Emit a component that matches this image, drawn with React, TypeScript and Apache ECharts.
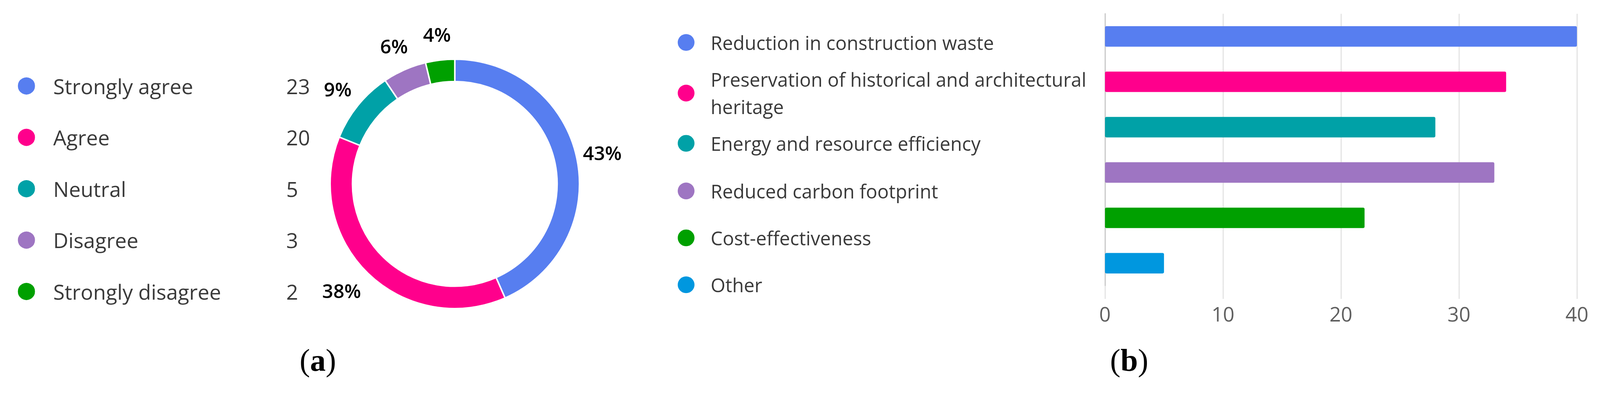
import React, { useEffect, useRef } from "react";
import * as echarts from "echarts";

// ---- data ----
const opinionNames = ["Strongly agree", "Agree", "Neutral", "Disagree", "Strongly disagree"];
const opinionCounts = [23, 20, 5, 3, 2];
const opinionColors = ["#577EF0", "#FF008C", "#00A1A7", "#9E75C2", "#00A000"];

const benefitNames = [
  "Reduction in construction waste",
  "Preservation of historical and architectural heritage",
  "Energy and resource efficiency",
  "Reduced carbon footprint",
  "Cost-effectiveness",
  "Other",
];
const benefitCounts = [40, 34, 28, 33, 22, 5];
const benefitColors = ["#577EF0", "#FF008C", "#00A1A7", "#9E75C2", "#00A000", "#0097DF"];

const axisMin = 0;
const axisMax = 40;
const axisStep = 10;

// ---- layout ----
const W = 4299;
const H = 1052;
const FONT = "'Open Sans', 'Noto Sans', sans-serif";
const SERIF = "'Liberation Serif', 'DejaVu Serif', serif";
const benefitLegendCenters = [114, 250, 385, 513, 639, 765];
const benefitLegendLineH = 74;
const benefitWrapChars = 45;
const pctLabelOffsets: [number, number][] = [[0, 0], [-22, -4], [0, 0], [0, 0], [0, 0]];

function wrapWords(text: string, maxChars: number): string {
  const words = text.split(" ");
  const lines: string[] = [];
  let cur = "";
  for (const w of words) {
    const next = cur ? cur + " " + w : w;
    if (next.length > maxChars && cur) {
      lines.push(cur);
      cur = w;
    } else {
      cur = next;
    }
  }
  if (cur) lines.push(cur);
  return lines.join("\n");
}

export default function App() {
  const ref = useRef<HTMLDivElement>(null);
  const scale =
    typeof window !== "undefined"
      ? Math.min(window.innerWidth / W, window.innerHeight / H, 1) || 1
      : 1;

  useEffect(() => {
    if (!ref.current) return;
    document.body.style.margin = "0";
    document.body.style.overflow = "hidden";
    document.documentElement.style.overflow = "hidden";
    const chart = echarts.init(ref.current, null, { renderer: "svg", width: W, height: H });
    const total = opinionCounts.reduce((a, b) => a + b, 0);

    const benefitLegends = benefitNames.map((name, i) => {
      const wrapped = wrapWords(name, benefitWrapChars);
      const lines = wrapped.split("\n").length;
      const h = lines * benefitLegendLineH;
      return {
        data: [name],
        orient: "vertical",
        left: 1821,
        top: benefitLegendCenters[i] - h / 2,
        padding: 0,
        itemWidth: 122,
        itemHeight: 45,
        icon: "circle",
        selectedMode: false,
        formatter: (n: string) => wrapWords(n, benefitWrapChars),
        textStyle: {
          fontFamily: FONT,
          fontSize: 51,
          color: "#3a3a3a",
          lineHeight: benefitLegendLineH,
        },
      };
    });

    const option: any = {
      animation: false,
      backgroundColor: "#ffffff",
      legend: [
        {
          data: opinionNames,
          orient: "vertical",
          left: 46,
          top: 203,
          padding: 0,
          itemWidth: 134,
          itemHeight: 48,
          itemGap: 82,
          icon: "circle",
          selectedMode: false,
          formatter: (name: string) =>
            `{n|${name}}{v|${opinionCounts[opinionNames.indexOf(name)]}}`,
          textStyle: {
            fontFamily: FONT,
            fontSize: 56,
            color: "#3a3a3a",
            lineHeight: 48,
            rich: {
              n: { width: 626, fontFamily: FONT, fontSize: 56, color: "#3a3a3a", lineHeight: 48 },
              v: { fontFamily: FONT, fontSize: 56, color: "#3a3a3a", lineHeight: 48 },
            },
          },
        },
        ...benefitLegends,
      ],
      grid: { left: 2969, width: 1268, top: 37, height: 731, containLabel: false },
      xAxis: {
        type: "value",
        min: axisMin,
        max: axisMax,
        interval: axisStep,
        axisLine: { show: false },
        axisTick: { show: true, length: 35, lineStyle: { color: "#e3e3e3", width: 3 } },
        splitLine: { show: true, lineStyle: { color: "#e3e3e3", width: 3 } },
        axisLabel: { fontFamily: FONT, fontSize: 54, color: "#5f5f5f", margin: 48 },
      },
      yAxis: {
        type: "category",
        inverse: true,
        data: benefitNames,
        axisLine: { show: true, lineStyle: { color: "#c9c9c9", width: 3 } },
        axisTick: { show: false },
        axisLabel: { show: false },
        splitLine: { show: false },
      },
      series: [
        {
          type: "pie",
          name: "Opinion",
          center: [1222, 494],
          radius: [275, 335],
          startAngle: 90,
          clockwise: true,
          silent: true,
          avoidLabelOverlap: false,
          label: { show: false },
          labelLine: { show: false },
          itemStyle: { borderColor: "#ffffff", borderWidth: 4 },
          data: opinionNames.map((n, i) => ({
            name: n,
            value: opinionCounts[i],
            itemStyle: { color: opinionColors[i] },
          })),
        },
        {
          type: "pie",
          name: "OpinionLabels",
          center: [1222, 494],
          radius: [392, 412],
          startAngle: 90,
          clockwise: true,
          silent: true,
          avoidLabelOverlap: false,
          itemStyle: { color: "rgba(0,0,0,0)" },
          label: {
            show: true,
            position: "inside",
            formatter: (p: any) => `${Math.round((p.value / total) * 100)}%`,
            fontFamily: FONT,
            fontSize: 52,
            fontWeight: 600,
            color: "#000000",
          },
          labelLine: { show: false },
          data: opinionNames.map((n, i) => ({
            name: n,
            value: opinionCounts[i],
            label: { offset: pctLabelOffsets[i] },
          })),
        },
        ...benefitNames.map((name, i) => ({
          type: "bar",
          name,
          silent: true,
          barWidth: 55,
          barGap: "-100%",
          itemStyle: { color: benefitColors[i], borderRadius: 4 },
          data: benefitCounts.map((v, j) => (j === i ? v : "-")),
        })),
      ],
      graphic: [
        {
          type: "text",
          x: 854,
          y: 968,
          style: {
            text: "({b|a})",
            fontFamily: SERIF,
            fontSize: 84,
            fill: "#000",
            align: "center",
            verticalAlign: "middle",
            rich: { b: { fontFamily: SERIF, fontSize: 84, fontWeight: "bold", fill: "#000" } },
          },
        },
        {
          type: "text",
          x: 3034,
          y: 968,
          style: {
            text: "({b|b})",
            fontFamily: SERIF,
            fontSize: 84,
            fill: "#000",
            align: "center",
            verticalAlign: "middle",
            rich: { b: { fontFamily: SERIF, fontSize: 84, fontWeight: "bold", fill: "#000" } },
          },
        },
      ],
    };

    chart.setOption(option);
    return () => chart.dispose();
  }, []);

  return (
    <div
      ref={ref}
      style={{
        position: "absolute",
        left: 0,
        top: 0,
        width: W,
        height: H,
        background: "#fff",
        transform: `scale(${scale})`,
        transformOrigin: "0 0",
      }}
    />
  );
}
